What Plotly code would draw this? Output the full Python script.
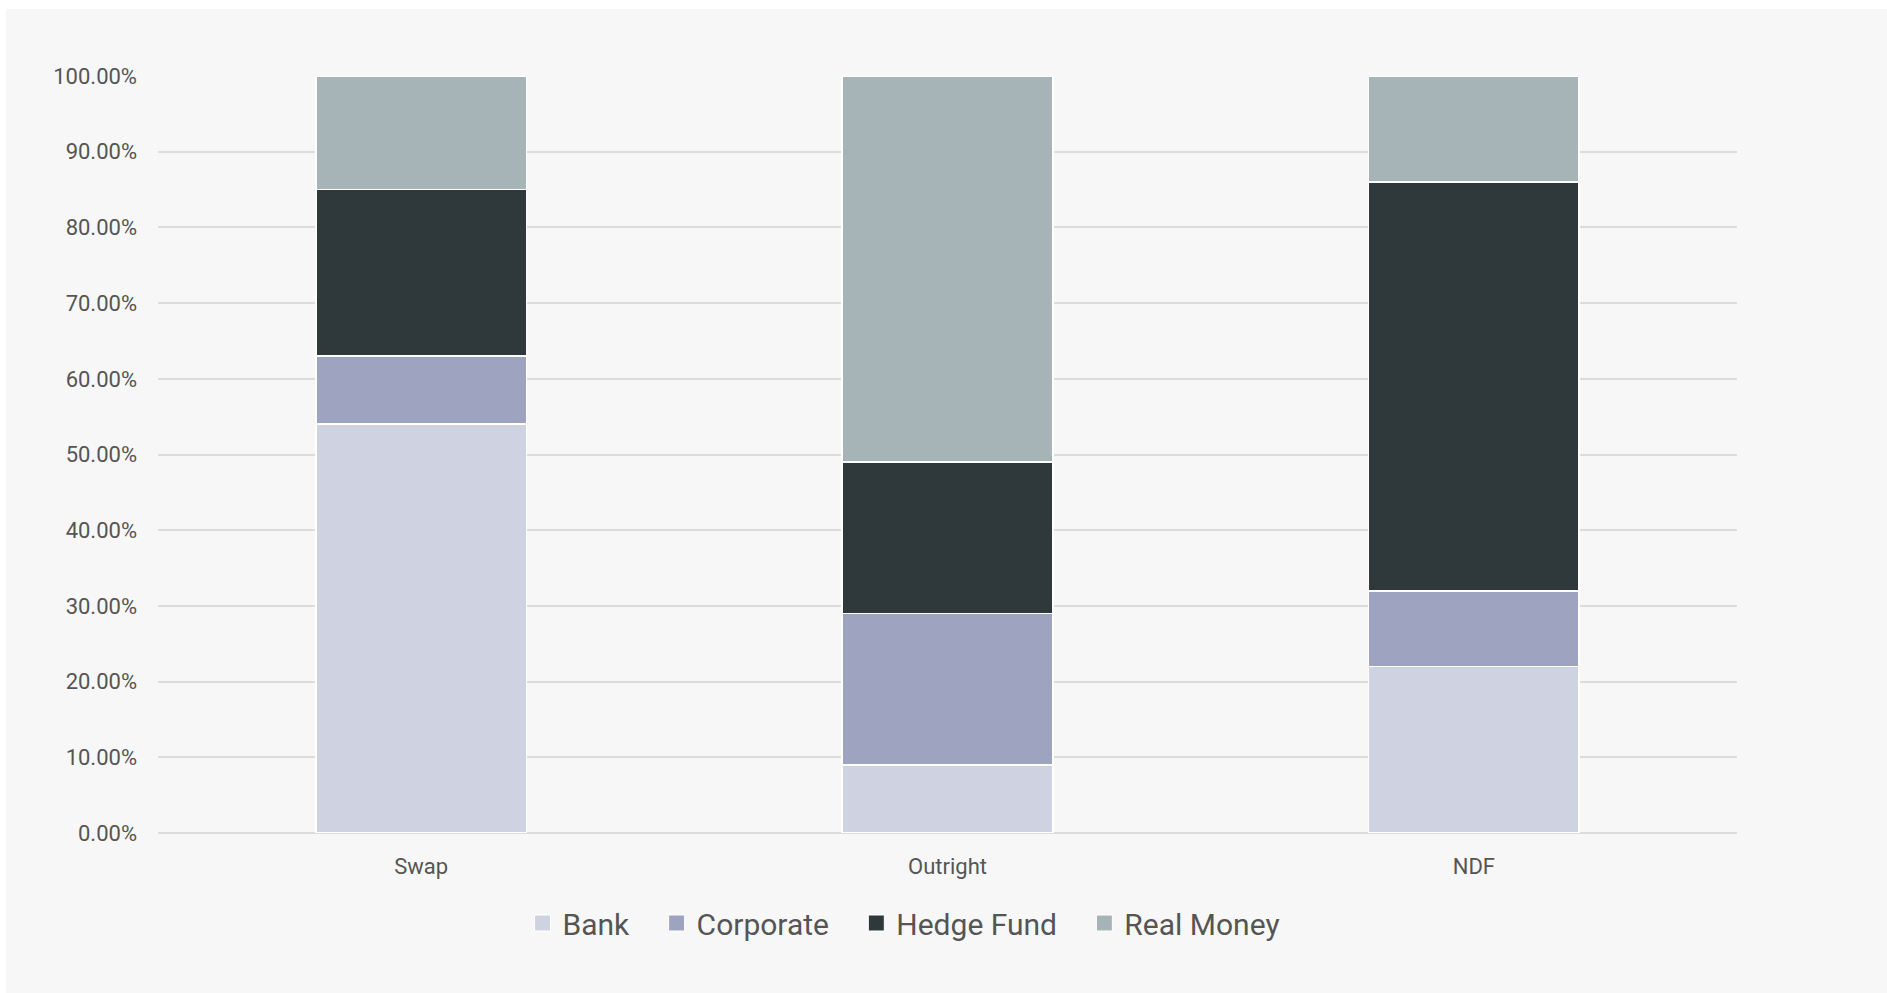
import plotly.graph_objects as go

# Share of FX volume by counterparty type for each instrument
instruments = ["Swap", "Outright", "NDF"]
bank = [0.54, 0.09, 0.22]
corporate = [0.09, 0.20, 0.10]
hedge_fund = [0.22, 0.20, 0.54]
real_money = [0.15, 0.51, 0.14]

series = [
    ("Bank", bank, "#cfd2e1"),
    ("Corporate", corporate, "#9ea3bf"),
    ("Hedge Fund", hedge_fund, "#2f393c"),
    ("Real Money", real_money, "#a6b4b7"),
]

W, H = 1887, 993
L, R, T, B = 158, 150, 76, 160
pw, ph = W - L - R, H - T - B

fig = go.Figure()
for name, vals, color in series:
    fig.add_trace(go.Bar(
        name=name, x=instruments, y=vals, showlegend=False, legendgroup=name,
        marker=dict(color=color, line=dict(color="#ffffff", width=1.5)),
        hovertemplate="%{x}<br>" + name + ": %{y:.2%}<extra></extra>",
    ))

# legend entries with larger square swatches; non-breaking spaces widen the gap
# between neighbouring entries
for i, (name, vals, color) in enumerate(series):
    pad = "\u00a0\u00a0\u00a0" if i < len(series) - 1 else ""
    fig.add_trace(go.Scatter(
        name=name + pad, x=[None], y=[None], mode="markers", legendgroup=name,
        marker=dict(symbol="square", size=16, color=color,
                    line=dict(color="#ffffff", width=1)),
        hoverinfo="skip",
    ))

# light grey card behind the chart
fig.add_shape(
    type="rect", xref="paper", yref="paper", layer="below",
    x0=(6 - L) / pw, x1=(W + 5 - L) / pw,
    y0=(H - B - (H + 5)) / ph, y1=(H - B - 9) / ph,
    fillcolor="#f7f7f7", line=dict(width=0),
)

fig.update_layout(
    width=W, height=H,
    margin=dict(l=L, r=R, t=T, b=B),
    barmode="stack", bargap=0.6,
    paper_bgcolor="#ffffff", plot_bgcolor="rgba(0,0,0,0)",
    font=dict(family="Roboto, sans-serif", color="#555555", size=22),
    legend=dict(
        orientation="h", x=(904 - L) / pw, xanchor="center",
        y=(H - B - 923) / ph, yanchor="middle",
        font=dict(size=30, color="#555555"), traceorder="normal",
        itemwidth=30, bgcolor="rgba(0,0,0,0)",
    ),
    xaxis=dict(showgrid=False, showline=False, ticks="", tickfont=dict(size=22),
               ticklabelstandoff=18),
    yaxis=dict(range=[0, 1.0], dtick=0.1, tickformat=".2%",
               showgrid=True, gridcolor="#dcdcdc", gridwidth=2,
               zeroline=True, zerolinecolor="#dcdcdc", zerolinewidth=2,
               showline=False, ticks="", tickfont=dict(size=22),
               ticklabelstandoff=20),
)

fig.write_html("out.html")
